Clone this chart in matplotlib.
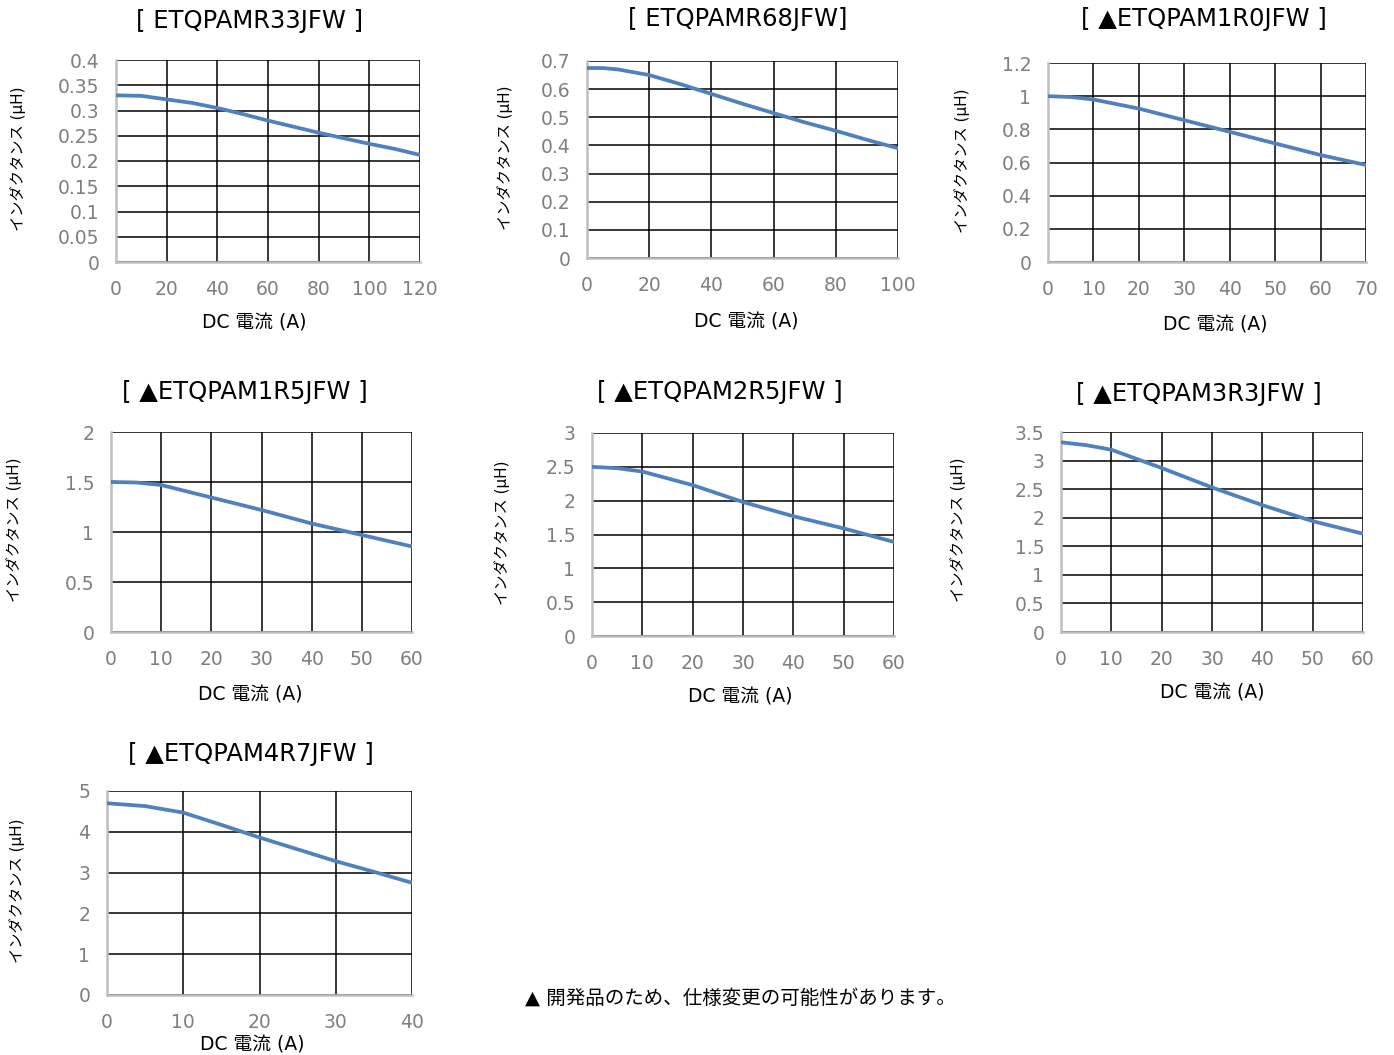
import numpy as np
import matplotlib
matplotlib.use("Agg")
import matplotlib.pyplot as plt

plt.rcParams['font.family'] = ['DejaVu Sans', 'Noto Sans CJK JP']

W, H = 1394, 1055

# chart data
titles = ['[ ETQPAMR33JFW ]', '[ ETQPAMR68JFW]', '[ ▲ETQPAM1R0JFW ]',
          '[ ▲ETQPAM1R5JFW ]', '[ ▲ETQPAM2R5JFW ]', '[ ▲ETQPAM3R3JFW ]',
          '[ ▲ETQPAM4R7JFW ]']

x_r33 = [0, 10, 20, 30, 40, 50, 60, 70, 80, 90, 100, 110, 120]
y_r33 = [0.330, 0.329, 0.322, 0.315, 0.305, 0.293, 0.280, 0.268, 0.256, 0.245, 0.234, 0.224, 0.212]

x_r68 = [0, 5, 10, 20, 30, 40, 50, 60, 70, 80, 90, 100]
y_r68 = [0.675, 0.675, 0.670, 0.650, 0.618, 0.583, 0.548, 0.515, 0.482, 0.452, 0.420, 0.390]

x_1r0 = [0, 5, 10, 20, 30, 40, 50, 60, 70]
y_1r0 = [1.000, 0.995, 0.980, 0.925, 0.855, 0.785, 0.715, 0.645, 0.585]

x_1r5 = [0, 5, 10, 20, 30, 40, 50, 60]
y_1r5 = [1.50, 1.495, 1.47, 1.345, 1.22, 1.085, 0.97, 0.855]

x_2r5 = [0, 5, 10, 20, 30, 40, 50, 60]
y_2r5 = [2.50, 2.48, 2.43, 2.23, 1.98, 1.77, 1.59, 1.39]

x_3r3 = [0, 5, 10, 15, 20, 30, 40, 50, 60]
y_3r3 = [3.32, 3.27, 3.19, 3.03, 2.87, 2.53, 2.22, 1.94, 1.72]

x_4r7 = [0, 5, 10, 15, 20, 25, 30, 35, 40]
y_4r7 = [4.70, 4.63, 4.47, 4.17, 3.86, 3.57, 3.28, 3.02, 2.75]

xs = [x_r33, x_r68, x_1r0, x_1r5, x_2r5, x_3r3, x_4r7]
ys = [y_r33, y_r68, y_1r0, y_1r5, y_2r5, y_3r3, y_4r7]
xticks = [np.arange(0, 121, 20), np.arange(0, 101, 20), np.arange(0, 71, 10),
          np.arange(0, 61, 10), np.arange(0, 61, 10), np.arange(0, 61, 10),
          np.arange(0, 41, 10)]
yticks = [['0', '0.05', '0.1', '0.15', '0.2', '0.25', '0.3', '0.35', '0.4'],
          ['0', '0.1', '0.2', '0.3', '0.4', '0.5', '0.6', '0.7'],
          ['0', '0.2', '0.4', '0.6', '0.8', '1', '1.2'],
          ['0', '0.5', '1', '1.5', '2'],
          ['0', '0.5', '1', '1.5', '2', '2.5', '3'],
          ['0', '0.5', '1', '1.5', '2', '2.5', '3', '3.5'],
          ['0', '1', '2', '3', '4', '5']]

# layout in pixels: plot box (left, top, right, bottom), title pos, xlabel pos, ylabel x
boxes = [(116, 60, 420, 262), (587, 61, 898, 258), (1048, 63, 1366, 262),
         (111, 432, 412, 632), (592, 433, 894, 636), (1061, 432, 1363, 632),
         (107, 791, 412, 995)]
title_pos = [(250, 21), (738, 19), (1204, 19), (245, 392), (720, 392), (1199, 394), (251, 754)]
xlab_pos = [(254, 323), (746, 322), (1215, 325), (250, 695), (740, 697), (1212, 693), (252, 1045)]
ylab_x = [18, 505, 962, 14, 502, 958, 17]

fig = plt.figure(figsize=(W / 100, H / 100), dpi=100)

for i in range(7):
    l, t, r, b = boxes[i]
    ax = fig.add_axes([l / W, 1 - b / H, (r - l) / W, (b - t) / H])
    ax.plot(xs[i], ys[i], color='#4f81bd', lw=2.7, solid_capstyle='round', zorder=3)
    ax.set_xlim(xticks[i][0], xticks[i][-1])
    yt = [float(v) for v in yticks[i]]
    ax.set_ylim(yt[0], yt[-1])
    ax.set_xticks(xticks[i])
    ax.set_yticks(yt)
    ax.set_yticklabels(yticks[i])
    ax.tick_params(length=0, labelsize=13.5, labelcolor='#7f7f7f')
    ax.tick_params(axis='x', pad=13)
    ax.tick_params(axis='y', pad=12)
    ax.grid(True, color='black', lw=1.1)
    ax.set_axisbelow(True)
    for s in ['top', 'right']:
        ax.spines[s].set_visible(False)
    for s in ['left', 'bottom']:
        ax.spines[s].set_color('#bfbfbf')
        ax.spines[s].set_linewidth(1.8)
        ax.spines[s].set_zorder(2.6)

    tx, ty = title_pos[i]
    fig.text(tx / W, 1 - ty / H, titles[i], ha='center', va='center', fontsize=17.5)
    lx, ly = xlab_pos[i]
    fig.text(lx / W, 1 - ly / H, 'DC 電流 (A)', ha='center', va='center', fontsize=13.5)
    fig.text(ylab_x[i] / W, 1 - ((t + b) / 2 - 2) / H, 'インダクタンス (μH)',
             ha='center', va='center', rotation=90, fontsize=11)

fig.text(525 / W, 1 - 998 / H, '▲ 開発品のため、仕様変更の可能性があります。',
         ha='left', va='center', fontsize=14)

fig.savefig('out.png', dpi=100)
